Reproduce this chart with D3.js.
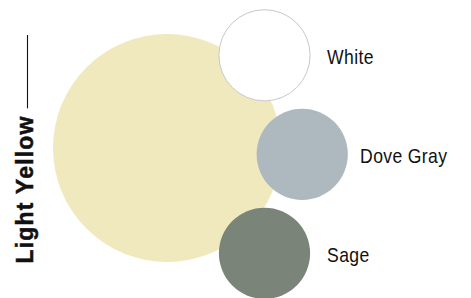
<!DOCTYPE html>
<html>
<head>
<meta charset="utf-8">
<script src="https://cdn.jsdelivr.net/npm/d3@7"></script>
<style>
  body { margin: 0; background: #fff; }
  svg { display: block; }
  .label { font-family: "Liberation Sans", Arial, sans-serif; font-size: 20px; letter-spacing: 0.4px; fill: #111; }
  .main-label { font-family: "Liberation Sans", Arial, sans-serif; font-size: 23px; font-weight: bold; letter-spacing: 1.2px; fill: #111; stroke: #111; stroke-width: 0.5px; }
</style>
</head>
<body>
<script>
// main colour and the three accent colours
var mainName = "Light Yellow"
var mainSize = 100
var accentNames = ["White", "Dove Gray", "Sage"]
var accentSizes = [16, 16, 16]
var colors = ["#f1e9be", "#ffffff", "#adb8bf", "#7a8478"]

var width = 471,
    height = 298,
    narrow = 0.88 // squeeze label text to look like a condensed face

var svg = d3.select("body").append("svg")
            .attr("width", width)
            .attr("height", height)

// area -> radius
var r = d3.scaleSqrt()
          .domain([0, mainSize])
          .range([0, 114])

var color = d3.scaleOrdinal()
              .domain([mainName].concat(accentNames))
              .range(colors)

// accent circles sit in a column, every other one pushed right
var y = d3.scalePoint()
          .domain(accentNames)
          .range([55.3, 253.3])
var colX = 264.5,
    indent = 37.7,
    labelGap = 17,
    labelIndent = 33

var mainX = 167,
    mainY = 148

svg.append("circle")
   .attr("cx", mainX)
   .attr("cy", mainY)
   .attr("r", r(mainSize))
   .style("fill", color(mainName))

var accents = accentNames.map(function(d, i) {
  return {name: d, size: accentSizes[i], i: i, x: colX + (i % 2) * indent, y: y(d)}
})

var g = svg.append("g").selectAll("g")
           .data(accents)
           .enter().append("g")

g.append("circle")
 .attr("cx", function(d) { return d.x })
 .attr("cy", function(d) { return d.y })
 .attr("r", function(d) { return r(d.size) })
 .style("fill", function(d) { return color(d.name) })
 .style("stroke", function(d) { return d.name === "White" ? "#c8c8c8" : "none" })
 .style("stroke-width", 1)

g.append("text")
 .attr("class", "label")
 .attr("transform", function(d) {
   var lx = colX + r(d.size) + labelGap + (d.i % 2) * labelIndent
   return "translate(" + lx + "," + (d.y + 8.5) + ") scale(" + narrow + ",1)"
 })
 .text(function(d) { return d.name })

// rotated title with its rule
var title = svg.append("text")
               .attr("class", "main-label")
               .attr("transform", "translate(32.5,263.5) rotate(-90)")
               .text(mainName)

var len = title.node().getComputedTextLength()

svg.append("line")
   .attr("x1", 27.5).attr("x2", 27.5)
   .attr("y1", 35)
   .attr("y2", 263.5 - len - 7)
   .style("stroke", "#111")
   .style("stroke-width", 1.1)
</script>
</body>
</html>
